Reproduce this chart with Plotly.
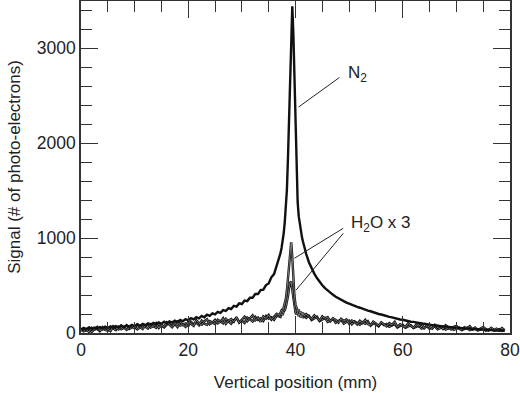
import plotly.graph_objects as go

# ---- sampling positions (mm) ----
x_left = [0.0, 0.5, 1.0, 1.5, 2.0, 2.5, 3.0, 3.5, 4.0, 4.5,
          5.0, 5.5, 6.0, 6.5, 7.0, 7.5, 8.0, 8.5, 9.0, 9.5,
          10.0, 10.5, 11.0, 11.5, 12.0, 12.5, 13.0, 13.5, 14.0, 14.5,
          15.0, 15.5, 16.0, 16.5, 17.0, 17.5, 18.0, 18.5, 19.0, 19.5,
          20.0, 20.5, 21.0, 21.5, 22.0, 22.5, 23.0, 23.5, 24.0, 24.5,
          25.0, 25.5, 26.0, 26.5, 27.0, 27.5, 28.0, 28.5, 29.0, 29.5,
          30.0, 30.5, 31.0, 31.5, 32.0, 32.5, 33.0, 33.5, 34.0, 34.5,
          35.0, 35.5, 36.0, 36.5, 37.0]
x_peak = [37.2, 37.4, 37.6, 37.8, 38.0, 38.2, 38.4, 38.6, 38.8, 39.0,
          39.2, 39.4, 39.6, 39.8, 40.0, 40.2, 40.4, 40.6, 40.8, 41.0,
          41.2, 41.4, 41.6]
x_right = [42.0, 42.5, 43.0, 43.5, 44.0, 44.5, 45.0, 45.5, 46.0, 46.5,
           47.0, 47.5, 48.0, 48.5, 49.0, 49.5, 50.0, 50.5, 51.0, 51.5,
           52.0, 52.5, 53.0, 53.5, 54.0, 54.5, 55.0, 55.5, 56.0, 56.5,
           57.0, 57.5, 58.0, 58.5, 59.0, 59.5, 60.0, 60.5, 61.0, 61.5,
           62.0, 62.5, 63.0, 63.5, 64.0, 64.5, 65.0, 65.5, 66.0, 66.5,
           67.0, 67.5, 68.0, 68.5, 69.0, 69.5, 70.0, 70.5, 71.0, 71.5,
           72.0, 72.5, 73.0, 73.5, 74.0, 74.5, 75.0, 75.5, 76.0, 76.5,
           77.0, 77.5, 78.0, 78.5, 79.0]

# ---- N2 signal ----
n2_left = [38, 55, 41, 60, 44, 58, 47, 63, 50, 66,
           52, 70, 57, 72, 60, 78, 62, 81, 68, 86,
           71, 92, 77, 95, 82, 101, 88, 107, 92, 111,
           97, 118, 103, 123, 110, 130, 116, 138, 124, 146,
           133, 157, 143, 166, 155, 180, 166, 192, 180, 206,
           196, 222, 212, 240, 232, 262, 252, 286, 278, 312,
           305, 341, 336, 372, 371, 410, 410, 452, 457, 505,
           521, 586, 620, 714, 792]
n2_peak = [840, 895, 960, 1050, 1170, 1320, 1510, 1850, 2300, 2850,
           3290, 3440, 3150, 2650, 2100, 1620, 1380, 1230, 1140, 1070,
           1010, 960, 915]
n2_right = [830, 745, 680, 625, 578, 538, 503, 472, 446, 422,
            402, 382, 366, 349, 336, 320, 310, 296, 287, 274,
            266, 254, 247, 235, 229, 217, 212, 200, 195, 184,
            180, 169, 165, 155, 152, 142, 139, 130, 127, 119,
            117, 109, 107, 100, 98, 91, 90, 83, 82, 76,
            75, 69, 69, 63, 63, 57, 58, 52, 53, 47,
            49, 43, 45, 39, 41, 35, 37, 31, 33, 28,
            30, 25, 27, 22, 24]

# ---- H2O x 3, measurement A (higher peak) ----
h2o_a_left = [22, 48, 31, 12, 55, 40, 63, 27, 35, 58,
              44, 20, 71, 52, 38, 80, 61, 33, 57, 74,
              49, 90, 66, 41, 78, 95, 58, 70, 104, 52,
              83, 67, 112, 90, 60, 98, 121, 79, 88, 64,
              118, 96, 75, 134, 102, 87, 124, 145, 92, 110,
              138, 101, 122, 155, 96, 130, 147, 118, 166, 109,
              140, 171, 124, 150, 186, 133, 161, 118, 175, 152,
              190, 141, 172, 203, 186]
h2o_a_peak = [205, 238, 226, 270, 300, 360, 450, 590, 760, 905,
              958, 800, 560, 390, 300, 262, 230, 248, 205, 226,
              190, 215, 180]
h2o_a_right = [198, 170, 148, 187, 160, 131, 176, 152, 168, 124,
               155, 138, 109, 150, 126, 143, 98, 132, 117, 90,
               128, 105, 139, 94, 82, 120, 101, 76, 112, 95,
               70, 104, 86, 118, 64, 92, 79, 60, 101, 72,
               55, 88, 69, 97, 50, 76, 63, 46, 85, 58,
               70, 42, 81, 55, 38, 66, 74, 45, 33, 62,
               50, 71, 36, 57, 29, 48, 64, 40, 27, 55,
               34, 46, 25, 52, 30]

# ---- H2O x 3, measurement B (lower peak) ----
h2o_b_left = [40, 18, 29, 52, 11, 37, 45, 20, 61, 33,
              25, 58, 47, 30, 66, 39, 55, 82, 43, 61,
              72, 38, 57, 86, 64, 48, 93, 71, 55, 99,
              76, 58, 88, 107, 70, 95, 62, 114, 84, 100,
              73, 119, 92, 108, 81, 131, 98, 86, 126, 112,
              94, 140, 117, 103, 150, 122, 99, 137, 158, 115,
              131, 104, 162, 143, 121, 170, 138, 156, 127, 178,
              150, 166, 139, 184, 170]
h2o_b_peak = [170, 205, 188, 226, 240, 275, 320, 390, 470, 530,
              540, 460, 340, 260, 215, 196, 220, 178, 200, 165,
              192, 158, 185]
h2o_b_right = [160, 182, 137, 150, 171, 126, 141, 159, 116, 135,
               146, 107, 128, 139, 99, 116, 131, 91, 122, 104,
               86, 113, 97, 124, 78, 101, 90, 70, 108, 84,
               96, 66, 80, 92, 59, 75, 87, 55, 71, 82,
               52, 67, 78, 47, 62, 73, 43, 58, 69, 40,
               54, 64, 37, 50, 60, 34, 46, 57, 31, 44,
               53, 30, 41, 50, 27, 39, 47, 25, 36, 45,
               24, 34, 42, 22, 31]

x_mm = x_left + x_peak + x_right
n2 = n2_left + n2_peak + n2_right
h2o_a = h2o_a_left + h2o_a_peak + h2o_a_right
h2o_b = h2o_b_left + h2o_b_peak + h2o_b_right
assert len(x_mm) == len(n2) == len(h2o_a) == len(h2o_b)

x_ticks = [0, 20, 40, 60, 80]
y_ticks = [0, 1000, 2000, 3000]

FONT = "Arial, Liberation Sans, sans-serif"
TXT = "#222222"
AX = "#333333"

fig = go.Figure()
for ys in (h2o_b, h2o_a):
    fig.add_trace(go.Scatter(x=x_mm, y=ys, mode="lines",
                             line=dict(color="#111111", width=2.4),
                             showlegend=False, hoverinfo="skip"))
    fig.add_trace(go.Scatter(x=x_mm, y=ys, mode="lines",
                             line=dict(color="#a0a0a0", width=0.7),
                             showlegend=False, hoverinfo="skip"))
fig.add_trace(go.Scatter(x=x_mm, y=n2, mode="lines",
                         line=dict(color="#111111", width=2.4),
                         showlegend=False, hoverinfo="skip"))

# leader lines
leaders = [((40.6, 2380), (48.2, 2690)),
           ((39.8, 787), (48.9, 1102)),
           ((40.1, 451), (48.9, 1049))]
for (x0, y0), (x1, y1) in leaders:
    fig.add_shape(type="line", xref="x", yref="y", x0=x0, y0=y0, x1=x1, y1=y1,
                  line=dict(color="#222222", width=1))

fig.add_annotation(x=49.4, y=2730, xref="x", yref="y", text="N<sub>2</sub>",
                   showarrow=False, xanchor="left", yanchor="middle",
                   font=dict(family=FONT, size=17, color=TXT))
fig.add_annotation(x=49.9, y=1150, xref="x", yref="y", text="H<sub>2</sub>O x 3",
                   showarrow=False, xanchor="left", yanchor="middle",
                   font=dict(family=FONT, size=17, color=TXT))

axis_common = dict(showline=True, linecolor=AX, linewidth=1.5, mirror="ticks",
                   ticks="inside", ticklen=17, tickwidth=1.2, tickcolor=AX,
                   showgrid=False, zeroline=False, ticklabeloverflow="allow",
                   tickfont=dict(family=FONT, size=17.5, color=TXT))

fig.update_xaxes(range=[0, 80], tickvals=x_ticks, ticktext=[str(v) for v in x_ticks],
                 minor=dict(dtick=5, tick0=0, ticks="inside", ticklen=11,
                            tickwidth=1.2, tickcolor=AX, showgrid=False),
                 title=dict(text="Vertical position (mm)", standoff=17,
                            font=dict(family=FONT, size=17, color=TXT)),
                 **axis_common)
fig.update_yaxes(range=[0, 3495], tickvals=y_ticks, ticktext=[str(v) for v in y_ticks],
                 minor=dict(dtick=200, tick0=0, ticks="inside", ticklen=11,
                            tickwidth=1.2, tickcolor=AX, showgrid=False),
                 title=dict(text="Signal (# of photo-electrons)", standoff=12,
                            font=dict(family=FONT, size=17, color=TXT)),
                 **axis_common)

fig.update_layout(width=520, height=393,
                  margin=dict(l=81, r=10, t=1, b=60, autoexpand=False),
                  paper_bgcolor="white", plot_bgcolor="white",
                  font=dict(family=FONT, size=17, color=TXT))

fig.write_html("out.html", config={"displayModeBar": False},
               post_script="document.body.style.margin='0';document.body.style.padding='0';")
